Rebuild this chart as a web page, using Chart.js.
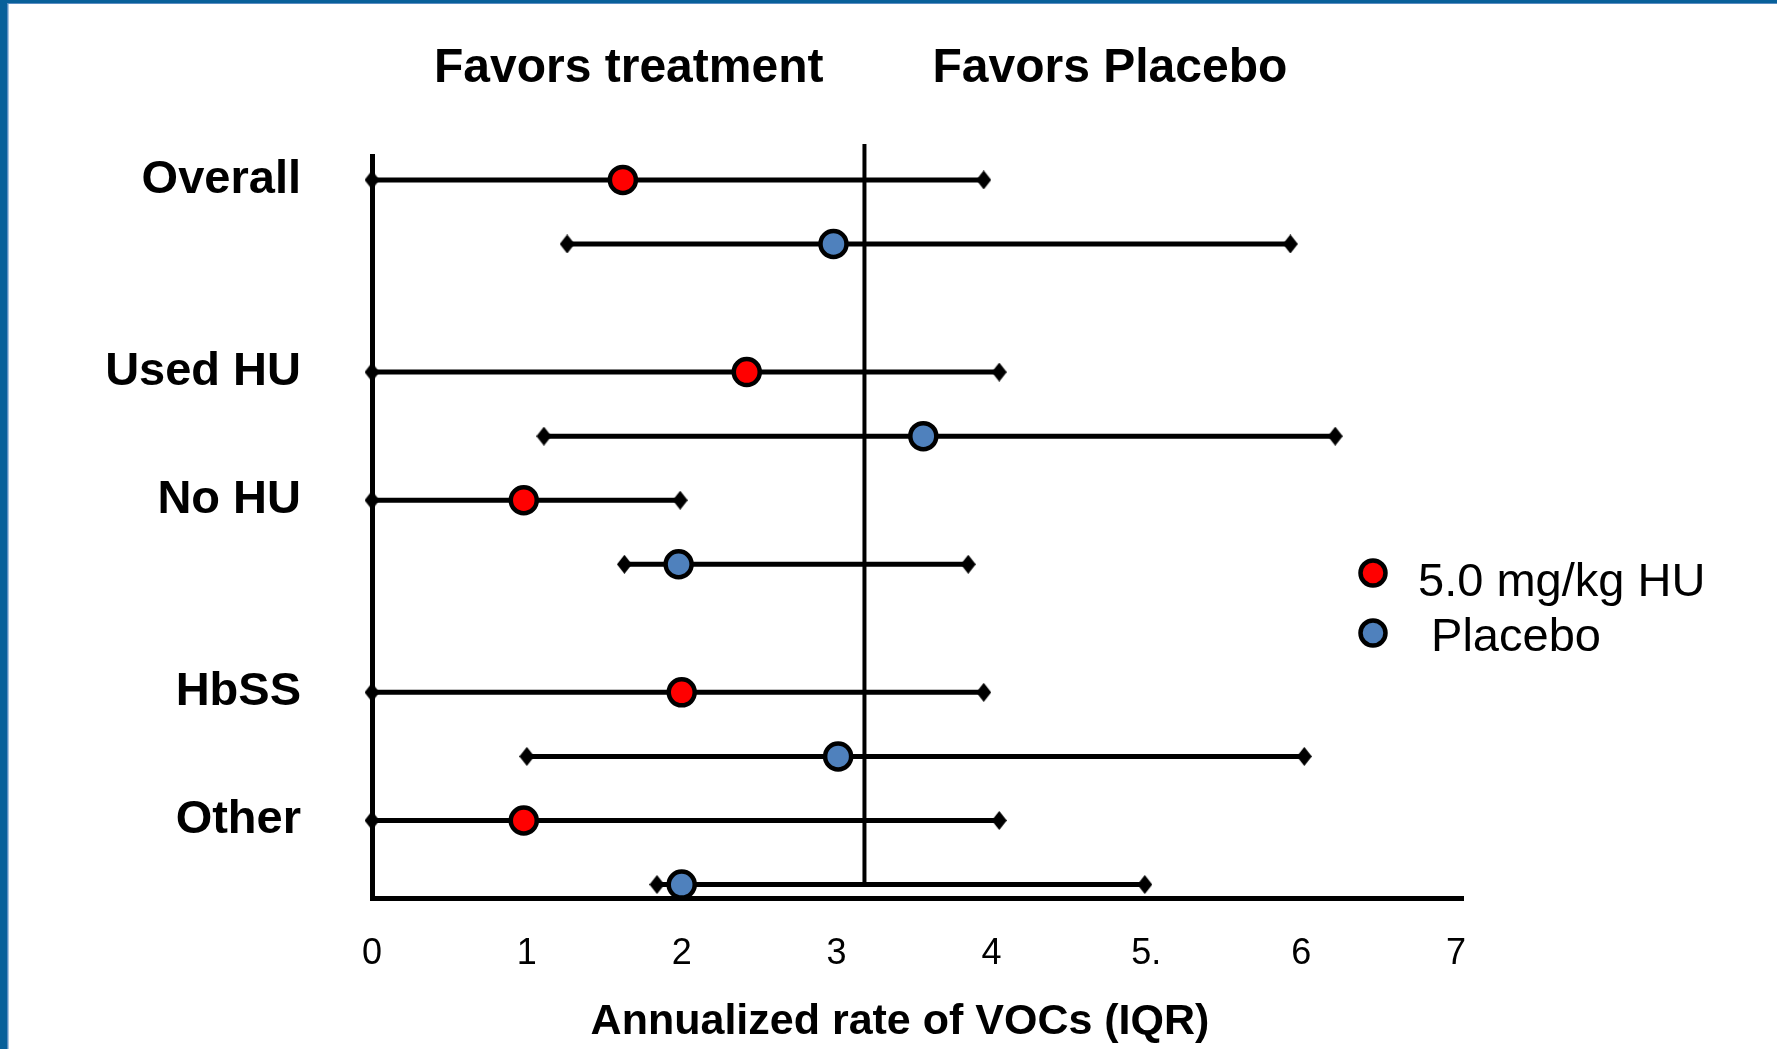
<!DOCTYPE html>
<html>
<head>
<meta charset="utf-8">
<script src="https://cdn.jsdelivr.net/npm/chart.js@4.4.1/dist/chart.umd.min.js"></script>
<style>
html,body{margin:0;padding:0;background:#fff;overflow:hidden}
canvas{display:block}
</style>
</head>
<body>
<canvas id="c" width="1777" height="1049"></canvas>
<script>
// ---------------- data ----------------
const groups = [["Overall"], ["Used HU", "No HU"], ["HbSS", "Other"]];
const seriesNames = ["5.0 mg/kg HU", " Placebo"];
// order of categories: Overall, Used HU, No HU, HbSS, Other
const huMedian = [1.62, 2.42, 0.98, 2.00, 0.98];
const huLow    = [0.00, 0.00, 0.00, 0.00, 0.00];
const huHigh   = [3.95, 4.05, 1.99, 3.95, 4.05];
const pbMedian = [2.98, 3.56, 1.98, 3.01, 2.00];
const pbLow    = [1.26, 1.11, 1.63, 1.00, 1.84];
const pbHigh   = [5.93, 6.22, 3.85, 6.02, 4.99];
const xTickValues = [0, 1, 2, 3, 4, 5, 6, 7];
const xTickLabels = ["0", "1", "2", "3", "4", "5.", "6", "7"];
const referenceValue = 3.18;
const axisTitle = "Annualized rate of VOCs (IQR)";
const favorLeft = "Favors treatment";
const favorRight = "Favors Placebo";

// ---------------- structure ----------------
const categories = [];
const rowOf = [];
(function () {
  let r = 0;
  groups.forEach((g, gi) => {
    if (gi > 0) r += 1; // blank slot between groups
    g.forEach(name => { categories.push(name); rowOf.push(r); r += 2; });
  });
})();
const lastRow = rowOf[rowOf.length - 1] + 1;

function medians(vals, off) {
  return categories.map((c, i) => ({ x: vals[i], y: rowOf[i] + off }));
}
function whiskers(lo, hi, off) {
  const d = [];
  categories.forEach((c, i) => {
    const y = rowOf[i] + off;
    d.push({ x: lo[i], y: y }, { x: hi[i], y: y }, { x: null, y: null });
  });
  return d;
}
function diamond(w, h) {
  const c = document.createElement('canvas');
  c.width = w; c.height = h;
  const g = c.getContext('2d');
  g.fillStyle = '#000';
  g.beginPath();
  g.moveTo(w / 2, 0); g.lineTo(w, h / 2); g.lineTo(w / 2, h); g.lineTo(0, h / 2);
  g.closePath(); g.fill();
  return c;
}
const dia = diamond(15, 19);
const FAM = "'Liberation Sans', Arial, Helvetica, sans-serif";
const RED = '#FF0000', BLUE = '#4F81BD';

const decor = {
  id: 'decor',
  beforeDraw(chart) {
    const { ctx, width, height } = chart;
    ctx.save();
    ctx.fillStyle = '#fff';
    ctx.fillRect(0, 0, width, height);
    ctx.fillStyle = '#08609A';
    ctx.fillRect(0, 0, 7, height);
    ctx.fillRect(0, 0, width, 3);
    ctx.fillStyle = '#5A8DC2';
    ctx.fillRect(7, 3, 1.5, height);
    ctx.fillRect(7, 3, width, 1);
    ctx.restore();
  },
  beforeDatasetsDraw(chart) {
    const { ctx, chartArea, scales } = chart;
    const x = scales.x.getPixelForValue(referenceValue);
    ctx.save();
    ctx.strokeStyle = '#000';
    ctx.lineWidth = 4;
    ctx.beginPath();
    ctx.moveTo(x, chartArea.top - 12);
    ctx.lineTo(x, scales.y.getPixelForValue(lastRow));
    ctx.stroke();
    ctx.restore();
  },
  afterDraw(chart) {
    const { ctx, scales } = chart;
    const rx = scales.x.getPixelForValue(referenceValue);
    ctx.save();
    ctx.fillStyle = '#000';
    ctx.textBaseline = 'alphabetic';
    ctx.font = 'bold 48px ' + FAM;
    ctx.textAlign = 'right';
    ctx.fillText(favorLeft, rx - 41, 82);
    ctx.textAlign = 'left';
    ctx.fillText(favorRight, rx + 68, 82);
    ctx.font = 'bold 43px ' + FAM;
    ctx.textAlign = 'center';
    ctx.fillText(axisTitle, 900, 1034);
    // legend
    ctx.font = '47px ' + FAM;
    ctx.textAlign = 'left';
    [0, 1].forEach(i => {
      const ds = chart.data.datasets[i];
      ctx.beginPath();
      ctx.arc(1373, 573 + 60 * i, 12.5, 0, Math.PI * 2);
      ctx.fillStyle = ds.pointBackgroundColor;
      ctx.fill();
      ctx.lineWidth = 4.5;
      ctx.strokeStyle = '#000';
      ctx.stroke();
      ctx.fillStyle = '#000';
      ctx.fillText(ds.label, 1418, 596 + 55 * i);
    });
    ctx.restore();
  }
};

new Chart(document.getElementById('c'), {
  type: 'scatter',
  data: {
    datasets: [
      { type: 'line', label: seriesNames[0], data: medians(huMedian, 0), showLine: false,
        pointStyle: 'circle', pointRadius: 13, pointBorderWidth: 4.5,
        pointBackgroundColor: RED, pointBorderColor: '#000', backgroundColor: RED, borderColor: '#000', clip: false },
      { type: 'line', label: seriesNames[1], data: medians(pbMedian, 1), showLine: false,
        pointStyle: 'circle', pointRadius: 13, pointBorderWidth: 4.5,
        pointBackgroundColor: BLUE, pointBorderColor: '#000', backgroundColor: BLUE, borderColor: '#000', clip: false },
      { type: 'line', label: 'IQR ' + seriesNames[0], data: whiskers(huLow, huHigh, 0), showLine: true, spanGaps: false,
        borderColor: '#000', borderWidth: 5, pointStyle: dia, pointRadius: 9, clip: false, fill: false },
      { type: 'line', label: 'IQR ' + seriesNames[1], data: whiskers(pbLow, pbHigh, 1), showLine: true, spanGaps: false,
        borderColor: '#000', borderWidth: 5, pointStyle: dia, pointRadius: 9, clip: false, fill: false }
    ]
  },
  options: {
    responsive: false,
    animation: false,
    events: [],
    layout: { padding: { top: 156, right: 314, left: 0, bottom: 0 } },
    plugins: { legend: { display: false }, tooltip: { enabled: false } },
    scales: {
      x: {
        type: 'linear', min: 0, max: 7.045,
        afterBuildTicks: s => { s.ticks = xTickValues.map(v => ({ value: v })); },
        afterFit: s => { s.height = 151; },
        ticks: { autoSkip: false, maxRotation: 0, padding: 34, color: '#000',
                 font: { family: FAM, size: 36 }, callback: (v, i) => xTickLabels[i] },
        grid: { display: false, drawTicks: false },
        border: { display: true, color: '#000', width: 5 }
      },
      y: {
        type: 'linear', reverse: true, min: -0.373, max: 11.21,
        afterBuildTicks: s => { s.ticks = rowOf.map(v => ({ value: v })); },
        afterFit: s => { s.width = 372; },
        ticks: { autoSkip: false, padding: 71, color: '#000',
                 font: { family: FAM, size: 47, weight: 'bold' }, callback: (v, i) => categories[i] },
        grid: { display: false, drawTicks: false },
        border: { display: true, color: '#000', width: 5 }
      }
    }
  },
  plugins: [decor]
});
</script>
</body>
</html>
